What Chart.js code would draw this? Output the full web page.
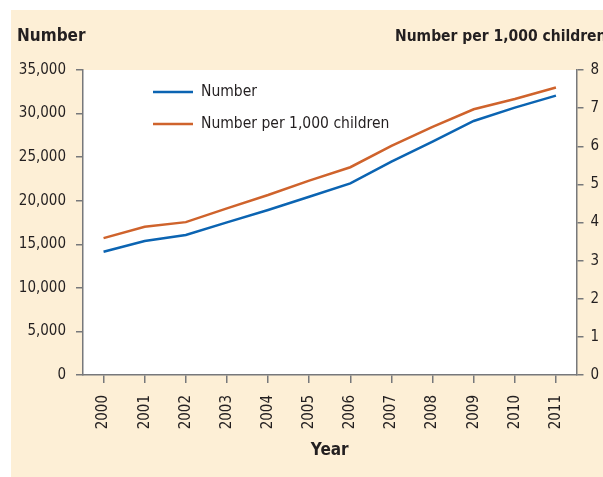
<!DOCTYPE html>
<html>
<head>
<meta charset="utf-8">
<script src="https://cdn.jsdelivr.net/npm/chart.js@4.4.0/dist/chart.umd.min.js"></script>
<style>
  html, body { margin: 0; padding: 0; background: #ffffff; }
  #wrap { position: relative; width: 603px; height: 477px; }
</style>
</head>
<body>
<div id="wrap"><canvas id="chart"></canvas></div>
<script>
// Data
const years = ['2000', '2001', '2002', '2003', '2004', '2005', '2006', '2007', '2008', '2009', '2010', '2011'];
const numberValues = [14150, 15380, 16070, 17510, 18930, 20460, 21980, 24480, 26770, 29150, 30680, 32060];
const per1000Values = [3.59, 3.89, 4.01, 4.37, 4.72, 5.10, 5.45, 6.01, 6.51, 6.97, 7.24, 7.54];
const seriesLabels = ['Number', 'Number per 1,000 children'];
const axisTitles = ['Number', 'Number per 1,000 children', 'Year'];

const COLORS = {
  blue: '#0b64b2',
  orange: '#cf632c',
  panel: '#fdefd6',
  text: '#231f20',
  axis: '#77787b'
};
const FONT = "'Liberation Sans Narrow', 'Arial Narrow', 'DejaVu Sans Condensed', sans-serif";

// Beige panel behind the white plot area
const backdrop = {
  id: 'backdrop',
  beforeDraw(chart) {
    const { ctx, chartArea: a } = chart;
    ctx.save();
    ctx.fillStyle = COLORS.panel;
    ctx.fillRect(11, 10, chart.width - 11, chart.height - 10);
    ctx.fillStyle = '#ffffff';
    ctx.fillRect(a.left, a.top, a.right - a.left, a.bottom - a.top);
    ctx.restore();
  }
};

// Axis headers and the in-plot legend
const annotations = {
  id: 'annotations',
  afterDraw(chart) {
    const { ctx } = chart;
    ctx.save();
    ctx.fillStyle = COLORS.text;
    ctx.textBaseline = 'middle';
    ctx.textAlign = 'left';
    ctx.font = 'bold 17px ' + FONT;
    ctx.fillText(axisTitles[0], 17, 37);
    ctx.font = 'bold 15.5px ' + FONT;
    ctx.fillText(axisTitles[1], 395, 37);

    ctx.font = '15.5px ' + FONT;
    const rows = [92, 124];
    chart.data.datasets.forEach((ds, i) => {
      ctx.strokeStyle = ds.borderColor;
      ctx.lineWidth = 2.5;
      ctx.beginPath();
      ctx.moveTo(153, rows[i]);
      ctx.lineTo(193, rows[i]);
      ctx.stroke();
      ctx.fillStyle = COLORS.text;
      ctx.fillText(ds.label, 201, rows[i]);
    });
    ctx.restore();
  }
};

const tickFont = { family: FONT, size: 15 };

new Chart(document.getElementById('chart'), {
  type: 'line',
  data: {
    labels: years,
    datasets: [
      {
        label: seriesLabels[0],
        data: numberValues,
        yAxisID: 'y',
        borderColor: COLORS.blue,
        borderWidth: 2.5,
        pointRadius: 0,
        tension: 0
      },
      {
        label: seriesLabels[1],
        data: per1000Values,
        yAxisID: 'y1',
        borderColor: COLORS.orange,
        borderWidth: 2.5,
        pointRadius: 0,
        tension: 0
      }
    ]
  },
  options: {
    responsive: true,
    maintainAspectRatio: false,
    animation: false,
    layout: { padding: { top: 70, left: 0, right: 0, bottom: 0 } },
    plugins: {
      legend: { display: false },
      tooltip: { enabled: false }
    },
    scales: {
      x: {
        offset: true,
        grid: { display: true, drawOnChartArea: false, tickLength: 8, color: COLORS.axis, lineWidth: 1.5 },
        border: { color: COLORS.axis, width: 1.5 },
        ticks: { font: tickFont, color: COLORS.text, minRotation: 90, maxRotation: 90, padding: 12, autoSkip: false },
        title: { display: true, text: axisTitles[2], font: { family: FONT, size: 17, weight: 'bold' }, color: COLORS.text, padding: 16 },
        afterFit(scale) { scale.height = 102; }
      },
      y: {
        position: 'left',
        min: 0,
        max: 35000,
        grid: { display: true, drawOnChartArea: false, tickLength: 7, color: COLORS.axis, lineWidth: 1.5 },
        border: { color: COLORS.axis, width: 1.5 },
        ticks: { stepSize: 5000, font: tickFont, color: COLORS.text, padding: 10 },
        afterFit(scale) { scale.width = 83; }
      },
      y1: {
        position: 'right',
        min: 0,
        max: 8,
        grid: { display: true, drawOnChartArea: false, tickLength: 7, color: COLORS.axis, lineWidth: 1.5 },
        border: { color: COLORS.axis, width: 1.5 },
        ticks: { stepSize: 1, font: tickFont, color: COLORS.text, padding: 7 },
        afterFit(scale) { scale.width = 26.5; }
      }
    }
  },
  plugins: [backdrop, annotations]
});
</script>
</body>
</html>
